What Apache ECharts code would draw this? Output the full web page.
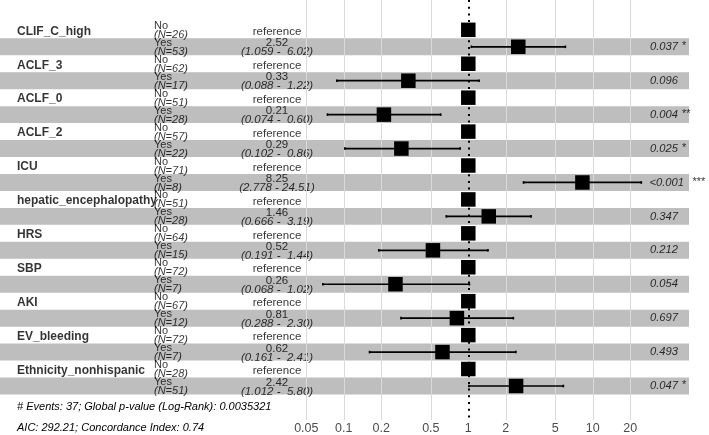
<!DOCTYPE html>
<html><head><meta charset="utf-8">
<script src="https://cdn.jsdelivr.net/npm/echarts@6/dist/echarts.min.js"></script>
<style>html,body{margin:0;padding:0;background:#fff}#c{width:709px;height:435px}</style>
</head><body><div id="c"></div>
<script>
const variables = ['CLIF_C_high','ACLF_3','ACLF_0','ACLF_2','ICU','hepatic_encephalopathy','HRS','SBP','AKI','EV_bleeding','Ethnicity_nonhispanic'];
const levels = ['No','Yes'];
const nNo = [26,62,51,57,71,51,64,72,67,72,28];
const nYes = [53,17,28,22,8,28,15,7,12,7,51];
const hazardRatio = [2.52,0.33,0.21,0.29,8.25,1.46,0.52,0.26,0.81,0.62,2.42];
const ciLower = [1.059,0.088,0.074,0.102,2.778,0.666,0.191,0.068,0.288,0.161,1.012];
const ciUpper = [6.02,1.22,0.60,0.86,24.51,3.19,1.44,1.02,2.30,2.41,5.80];
const pValues = ['0.037','0.096','0.004','0.025','<0.001','0.347','0.212','0.054','0.697','0.493','0.047'];
const stars = ['*','','**','*','***','','','','','','*'];
const xTicks = [0.05,0.1,0.2,0.5,1,2,5,10,20];
const footer = ['# Events: 37; Global p-value (Log-Rank): 0.0035321','AIC: 292.21; Concordance Index: 0.74'];

const FONT = "'Liberation Sans', Arial, Helvetica, sans-serif";
const Y_MIN = -1.759, Y_MAX = 23.005;
const COL_NAME = 17, COL_LEVEL = 154, COL_HR = 277, COL_P = 678, BAND_END = 689;

function textSeries(data, label, z) {
  return {
    type: 'scatter', xAxisIndex: 0, yAxisIndex: 0, symbolSize: 0, silent: true, z: z || 3,
    data: data,
    label: Object.assign({show: true, position: 'inside', formatter: '{b}', color: '#000',
      fontFamily: FONT, verticalAlign: 'middle'}, label)
  };
}

const nameData = variables.map((v, i) => ({name: v, value: [COL_NAME, 2 * i]}));
const levelData = [], nData = [], refData = [], hrData = [], ciData = [], pData = [], pLtData = [], starData = [], starLtData = [];
variables.forEach((v, i) => {
  levelData.push({name: levels[0], value: [COL_LEVEL, 2 * i]});
  levelData.push({name: levels[1], value: [COL_LEVEL, 2 * i + 1]});
  nData.push({name: '(N=' + nNo[i] + ')', value: [COL_LEVEL, 2 * i]});
  nData.push({name: '(N=' + nYes[i] + ')', value: [COL_LEVEL, 2 * i + 1]});
  refData.push({name: 'reference', value: [COL_HR, 2 * i]});
  hrData.push({name: hazardRatio[i].toFixed(2), value: [COL_HR, 2 * i + 1]});
  ciData.push({name: '(' + ciLower[i].toFixed(3) + ' - ' + ciUpper[i].toFixed(2).padStart(5, ' ') + ')', value: [COL_HR, 2 * i + 1]});
  const lt = pValues[i].startsWith('<');
  (lt ? pLtData : pData).push({name: pValues[i], value: [COL_P, 2 * i + 1]});
  if (stars[i]) (lt ? starLtData : starData).push({name: stars[i], value: [COL_P, 2 * i + 1]});
});

const bandAreas = variables.map((v, i) => [
  {xAxis: 0, yAxis: 2 * i + 0.5},
  {xAxis: BAND_END, yAxis: 2 * i + 1.5}
]);

const pointData = [];
const whiskerData = [];
variables.forEach((v, i) => {
  pointData.push([1, 2 * i]);
  pointData.push([hazardRatio[i], 2 * i + 1]);
  whiskerData.push([ciLower[i], ciUpper[i], 2 * i + 1]);
});

const chart = echarts.init(document.getElementById('c'), null, {renderer: 'canvas'});
chart.setOption({
  animation: false,
  backgroundColor: '#fff',
  grid: [
    {left: 0, top: 0, width: 709, height: 420},
    {left: 294.25, top: 0, width: 357.95, height: 420}
  ],
  xAxis: [
    {gridIndex: 0, type: 'value', min: 0, max: 709, show: false},
    {gridIndex: 1, type: 'log', logBase: 10, min: 0.04, max: 30,
      axisLine: {show: false}, axisTick: {show: false}, splitLine: {show: false},
      axisLabel: {show: true, customValues: xTicks, margin: 2, fontSize: 12.5, color: '#4d4d4d', fontFamily: FONT,
        formatter: v => String(+(+v).toPrecision(3))}}
  ],
  yAxis: [
    {gridIndex: 0, type: 'value', min: Y_MIN, max: Y_MAX, inverse: true, show: false},
    {gridIndex: 1, type: 'value', min: Y_MIN, max: Y_MAX, inverse: true, show: false}
  ],
  graphic: footer.map((t, k) => ({
    type: 'text', left: COL_NAME, top: k === 0 ? 401 : 422, silent: true,
    style: {text: t, fill: '#000', font: 'italic 11px ' + FONT}
  })),
  series: [
    {type: 'line', xAxisIndex: 1, yAxisIndex: 1, data: [], z: 1, silent: true,
      markLine: {silent: true, symbol: ['none', 'none'], label: {show: false},
        lineStyle: {color: '#dadada', width: 1, type: 'solid'},
        data: xTicks.filter(v => v !== 1).map(v => ({xAxis: v}))}},
    {type: 'scatter', xAxisIndex: 0, yAxisIndex: 0, data: [], z: 2, silent: true,
      markArea: {silent: true, itemStyle: {color: '#bebebe'}, data: bandAreas}},
    textSeries(nameData, {align: 'left', fontSize: 12, fontWeight: 'bold', offset: [0, 1.5]}),
    textSeries(levelData, {align: 'left', fontSize: 11, offset: [0, -4]}),
    textSeries(nData, {align: 'left', fontSize: 11, fontStyle: 'italic', offset: [0, 5]}),
    textSeries(refData, {align: 'center', fontSize: 11.5, offset: [0, 2]}),
    textSeries(hrData, {align: 'center', fontSize: 11.5, offset: [0, -3.5]}),
    textSeries(ciData, {align: 'center', fontSize: 11.5, fontStyle: 'italic', offset: [0, 5.5]}),
    textSeries(pData, {align: 'right', fontSize: 11.2, fontStyle: 'italic', offset: [0, 0]}),
    textSeries(pLtData, {align: 'right', fontSize: 11.2, fontStyle: 'italic', offset: [6, 0]}),
    textSeries(starData, {align: 'left', fontSize: 11, fontStyle: 'italic', offset: [3.5, -1]}),
    textSeries(starLtData, {align: 'left', fontSize: 11, fontStyle: 'italic', offset: [14, -1]}),
    {type: 'line', xAxisIndex: 1, yAxisIndex: 1, data: [], z: 4, silent: true,
      markLine: {silent: true, symbol: ['none', 'none'], label: {show: false},
        lineStyle: {color: '#000', width: 2, type: [2, 4.7], cap: 'butt'},
        data: [{xAxis: 1}]}},
    {type: 'custom', xAxisIndex: 1, yAxisIndex: 1, z: 5, silent: true,
      encode: {x: [0, 1], y: 2},
      data: whiskerData,
      renderItem: function (params, api) {
        const a = api.coord([api.value(0), api.value(2)]);
        const b = api.coord([api.value(1), api.value(2)]);
        const st = {stroke: '#000', lineWidth: 1.7};
        return {type: 'group', children: [
          {type: 'line', shape: {x1: a[0], y1: a[1], x2: b[0], y2: b[1]}, style: st},
          {type: 'line', shape: {x1: a[0], y1: a[1] - 1.3, x2: a[0], y2: a[1] + 1.3}, style: st},
          {type: 'line', shape: {x1: b[0], y1: b[1] - 1.3, x2: b[0], y2: b[1] + 1.3}, style: st}
        ]};
      }},
    {type: 'scatter', xAxisIndex: 1, yAxisIndex: 1, z: 6, silent: true,
      symbol: 'rect', symbolSize: 14.5, itemStyle: {color: '#000', opacity: 1},
      data: pointData}
  ]
});
</script></body></html>
